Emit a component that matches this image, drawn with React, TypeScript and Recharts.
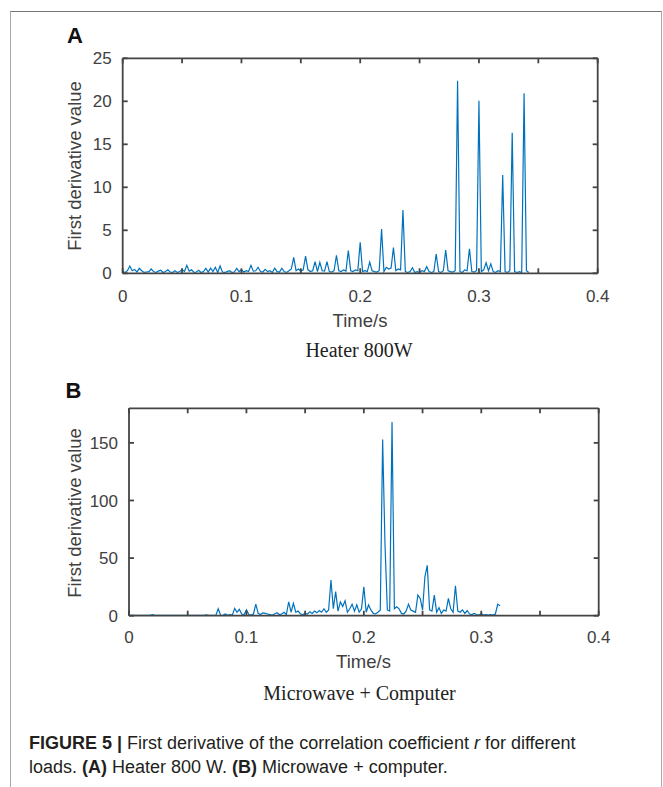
import React from "react";
import { LineChart, Line, XAxis, YAxis } from "recharts";

// ---------- data ----------
const STEP_A = 0.002; // s
const heaterValues: number[] = [
  0.2, 0.1, 0.3, 0.85, 0.3, 0.45, 0.15, 0.58, 0.3, 0.1,
  0.15, 0.2, 0.5, 0.2, 0.1, 0.25, 0.35, 0.1, 0.2, 0.4,
  0.15, 0.1, 0.3, 0.1, 0.2, 0.45, 0.2, 0.93, 0.25, 0.4,
  0.1, 0.15, 0.35, 0.1, 0.2, 0.58, 0.15, 0.6, 0.2, 0.7,
  0.1, 0.85, 0.15, 0.1, 0.2, 0.3, 0.1, 0.15, 0.58, 0.2,
  0.4, 0.15, 0.3, 0.2, 0.93, 0.25, 0.3, 0.7, 0.2, 0.15,
  0.45, 0.2, 0.3, 0.1, 0.6, 0.2, 0.15, 0.58, 0.2, 0.1,
  0.3, 0.5, 1.85, 0.3, 0.5, 0.25, 0.4, 2.0, 0.4, 0.2,
  0.3, 1.35, 0.2, 1.28, 0.3, 0.25, 1.35, 0.2, 0.15, 0.3,
  2.1, 0.3, 0.2, 0.4, 0.25, 2.65, 0.3, 0.2, 0.4, 0.3,
  3.6, 0.2, 0.3, 0.2, 1.3, 0.3, 0.2, 0.15, 0.3, 5.15,
  0.2, 0.7, 0.5, 0.6, 3.0, 0.3, 0.5, 0.4, 7.36, 0.2,
  0.1, 0.2, 0.65, 0.1, 0.2, 0.1, 0.3, 0.2, 0.77, 0.2,
  0.1, 0.2, 2.24, 0.2, 0.1, 0.3, 2.7, 0.3, 0.2, 0.15,
  0.3, 22.4, 0.2, 0.1, 0.4, 0.3, 2.86, 0.2, 0.15, 0.3,
  20.07, 0.2, 0.4, 1.23, 0.3, 1.1, 0.2, 0.1, 0.3, 0.2,
  11.43, 0.2, 0.1, 0.3, 16.35, 0.2, 0.1, 0.2, 0.1, 20.93,
  0.3, 0.1,
];

const STEP_B = 0.002; // s
const microwaveValues: number[] = [
  0.3, 0.2, 0.3, 0.2, 0.3, 0.2, 0.3, 0.2, 0.3, 0.4,
  1.0, 0.3, 0.2, 0.3, 0.2, 0.3, 0.2, 0.2, 0.3, 0.2,
  0.3, 0.2, 0.3, 0.2, 0.2, 0.3, 0.2, 0.3, 0.2, 0.3,
  0.2, 0.3, 0.4, 0.8, 0.3, 0.2, 0.3, 0.4, 6, 0.5,
  0.3, 1.5, 0.4, 1.0, 0.5, 6.4, 3, 5.5, 1.5, 0.8,
  5, 1, 0.5, 1.5, 10, 2, 1, 2.5, 2, 1.5,
  1, 0.5, 1.5, 2.5, 1, 1.5, 3, 1, 12.1, 3,
  10.7, 3, 4, 1.5, 1, 2, 1.5, 3.5, 2, 4,
  2.5, 4.5, 3, 6, 3, 5, 31, 6, 21, 4,
  12, 8, 13, 3, 6, 10, 4, 9.5, 3, 6,
  25, 3, 9.3, 5, 2, 1.5, 3, 5, 153, 62,
  5, 4, 168, 6, 7.8, 6, 2, 1.5, 4, 10,
  5, 4, 3, 17.9, 15, 5, 33.8, 43.7, 5, 4,
  17.9, 3, 7, 2, 5, 4, 15, 6, 3, 26,
  4, 3, 5, 2, 4.5, 1.5, 1, 2, 1, 0.5,
  2, 0.5, 1, 0.5, 1, 0.5, 1.5, 9.9, 8.7,
];

const xTicks = [0, 0.05, 0.1, 0.15, 0.2, 0.25, 0.3, 0.35, 0.4];
const yTicksA = [0, 5, 10, 15, 20, 25];
const yTicksB = [0, 50, 100, 150];

const heaterData = heaterValues.map((v, i) => ({ t: +(i * STEP_A).toFixed(4), v }));
const microwaveData = microwaveValues.map((v, i) => ({ t: +(i * STEP_B).toFixed(4), v }));

// ---------- styles ----------
const AXIS_COLOR = "#444444";
const TEXT_COLOR = "#404040";
const LINE_COLOR = "#0072BD";
const SANS = "Arial, 'Liberation Sans', Helvetica, sans-serif";
const SERIF = "'Times New Roman', 'Liberation Serif', Times, serif";

const tickStyle = { fill: TEXT_COLOR, fontSize: 17, fontFamily: SANS };
const axisLineStyle = { stroke: AXIS_COLOR, strokeWidth: 1.8 };

const fmtX = (v: number) => {
  if (Math.abs(v * 10 - Math.round(v * 10)) > 1e-6) return "";
  return v === 0 ? "0" : v.toFixed(1);
};
const blank = () => "";

type PanelProps = {
  data: { t: number; v: number }[];
  yTicks: number[];
  yMax: number;
  top: number;
  plotLeft: number;
  plotRight: number;
  plotTop: number;
  plotBottom: number;
  xTickMargin: number;
};

function Panel({ data, yTicks, yMax, top, plotLeft, plotRight, plotTop, plotBottom, xTickMargin }: PanelProps) {
  const W = 663;
  const H = 330;
  const yAxisW = 60;
  const xAxisH = 30;
  const topAxisH = 1;
  const rightAxisW = 1;
  const localTop = plotTop - top;
  const localBottom = plotBottom - top;
  return (
    <div style={{ position: "absolute", left: 0, top }}>
      <LineChart
        width={W}
        height={H}
        data={data}
        margin={{
          top: localTop - topAxisH,
          left: plotLeft - yAxisW,
          right: W - plotRight - rightAxisW,
          bottom: H - localBottom - xAxisH,
        }}
      >
        <XAxis
          xAxisId="b"
          dataKey="t"
          type="number"
          domain={[0, 0.4]}
          ticks={xTicks}
          allowDataOverflow
          height={xAxisH}
          tickSize={-5}
          tickMargin={xTickMargin}
          tickFormatter={fmtX}
          tick={tickStyle}
          axisLine={axisLineStyle}
          tickLine={axisLineStyle}
        />
        <XAxis
          xAxisId="t"
          orientation="top"
          dataKey="t"
          type="number"
          domain={[0, 0.4]}
          ticks={xTicks}
          allowDataOverflow
          height={topAxisH}
          tickSize={-5}
          tickFormatter={blank}
          tick={tickStyle}
          axisLine={axisLineStyle}
          tickLine={axisLineStyle}
        />
        <YAxis
          yAxisId="l"
          type="number"
          domain={[0, yMax]}
          ticks={yTicks}
          allowDataOverflow
          width={yAxisW}
          tickSize={-5}
          tickMargin={16}
          tick={tickStyle}
          axisLine={axisLineStyle}
          tickLine={axisLineStyle}
        />
        <YAxis
          yAxisId="r"
          orientation="right"
          type="number"
          domain={[0, yMax]}
          ticks={yTicks}
          allowDataOverflow
          width={rightAxisW}
          tickSize={-5}
          tickFormatter={blank}
          tick={tickStyle}
          axisLine={axisLineStyle}
          tickLine={axisLineStyle}
        />
        {/* invisible series binding the mirrored frame axes */}
        <Line
          xAxisId="t"
          yAxisId="r"
          type="linear"
          dataKey="v"
          stroke="none"
          strokeWidth={0}
          dot={false}
          activeDot={false}
          isAnimationActive={false}
        />
        <Line
          xAxisId="b"
          yAxisId="l"
          type="linear"
          dataKey="v"
          stroke={LINE_COLOR}
          strokeWidth={1.2}
          dot={false}
          activeDot={false}
          isAnimationActive={false}
        />
      </LineChart>
    </div>
  );
}

function Txt({
  x, y, children, size, family, weight, color, rotate,
}: {
  x: number; y: number; children: React.ReactNode; size: number; family: string;
  weight?: number | string; color?: string; rotate?: boolean;
}) {
  return (
    <div
      style={{
        position: "absolute",
        left: x,
        top: y,
        transform: `translate(-50%, -50%)${rotate ? " rotate(-90deg)" : ""}`,
        whiteSpace: "nowrap",
        lineHeight: 1,
        fontSize: size,
        fontFamily: family,
        fontWeight: weight ?? "normal",
        color: color ?? TEXT_COLOR,
      }}
    >
      {children}
    </div>
  );
}

export default function App() {
  return (
    <div
      style={{
        position: "absolute",
        left: 0,
        top: 0,
        width: 663,
        height: 787,
        background: "#fff",
        overflow: "hidden",
      }}
    >
      {/* frame */}
      <div
        style={{
          position: "absolute",
          left: 10,
          top: 11,
          width: 650,
          height: 800,
          borderTop: "1px solid #777",
          borderLeft: "1px solid #aaa",
          borderRight: "1px solid #aaa",
        }}
      />

      {/* Panel A */}
      <Txt x={75} y={35.5} size={22} family={SANS} weight="bold" color="#111">A</Txt>
      <Panel
        data={heaterData}
        yTicks={yTicksA}
        yMax={25}
        top={0}
        plotLeft={122.7}
        plotRight={597.7}
        plotTop={58.3}
        plotBottom={273.3}
        xTickMargin={22}
      />
      <Txt x={75} y={166} size={18.5} family={SANS} rotate>First derivative value</Txt>
      <Txt x={360} y={321} size={18.5} family={SANS}>Time/s</Txt>
      <Txt x={359} y={350} size={20} family={SERIF} color="#222">Heater 800W</Txt>

      {/* Panel B */}
      <Txt x={73.5} y={390.5} size={22} family={SANS} weight="bold" color="#111">B</Txt>
      <Panel
        data={microwaveData}
        yTicks={yTicksB}
        yMax={180}
        top={360}
        plotLeft={129}
        plotRight={598.7}
        plotTop={408.3}
        plotBottom={615.7}
        xTickMargin={20}
      />
      <Txt x={75} y={513} size={18.5} family={SANS} rotate>First derivative value</Txt>
      <Txt x={363.5} y={662} size={18.5} family={SANS}>Time/s</Txt>
      <Txt x={359.5} y={693} size={20} family={SERIF} color="#222">Microwave + Computer</Txt>

      {/* caption */}
      <div
        style={{
          position: "absolute",
          left: 29,
          top: 731,
          width: 620,
          fontSize: 18,
          lineHeight: "24px",
          fontFamily: "'Liberation Sans Narrow', 'Arial Narrow', Arial, sans-serif",
          color: "#231f20",
          whiteSpace: "nowrap",
        }}
      >
        <div>
          <b>FIGURE 5 |</b> First derivative of the correlation coefficient <i>r</i> for different
        </div>
        <div>
          loads. <b>(A)</b> Heater 800 W. <b>(B)</b> Microwave + computer.
        </div>
      </div>
    </div>
  );
}
